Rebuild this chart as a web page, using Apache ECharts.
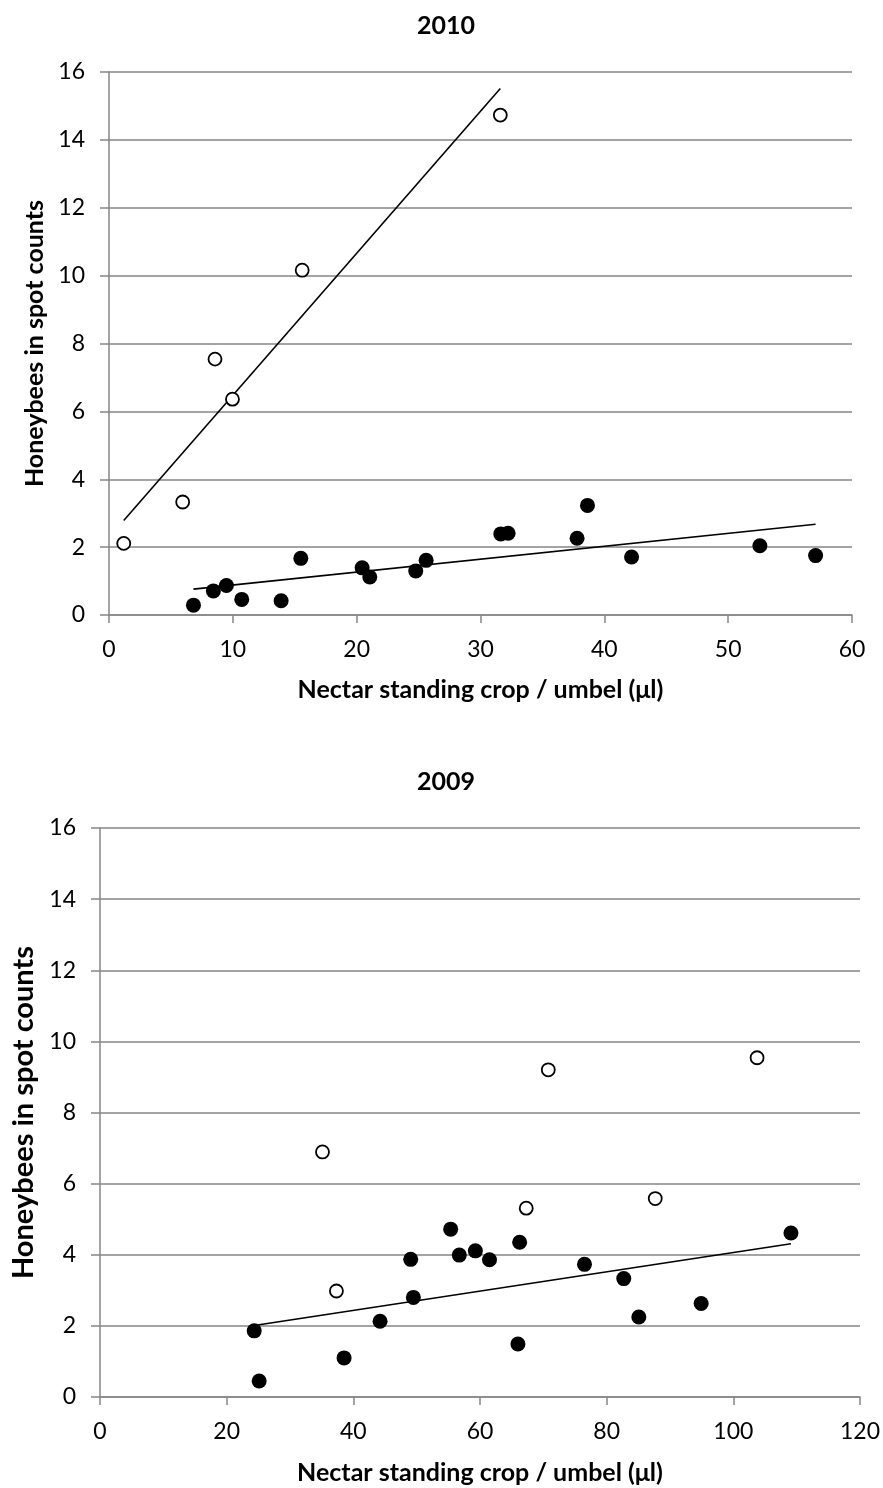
<!DOCTYPE html>
<html>
<head>
<meta charset="utf-8">
<script src="https://cdn.jsdelivr.net/npm/echarts@6/dist/echarts.min.js"></script>
<style>
html,body{margin:0;padding:0;background:#fff;}
#chart{width:883px;height:1488px;}
</style>
</head>
<body>
<div id="chart"></div>
<script>
// ---- Data ----
const title2010 = "2010";
const title2009 = "2009";
const xAxisTitle = "Nectar standing crop / umbel (μl)";
const yAxisTitle = "Honeybees in spot counts";

const yTicks = [0, 2, 4, 6, 8, 10, 12, 14, 16];
const xTicks2010 = [0, 10, 20, 30, 40, 50, 60];
const xTicks2009 = [0, 20, 40, 60, 80, 100, 120];

const open2010X = [1.19, 5.95, 8.56, 9.97, 15.6, 31.6];
const open2010Y = [2.11, 3.33, 7.54, 6.36, 10.16, 14.73];
const filled2010X = [6.82, 8.43, 9.48, 10.72, 13.9, 15.49, 20.44, 21.06, 24.77, 25.61, 31.64, 32.23, 37.8, 38.64, 42.2, 52.56, 57.06];
const filled2010Y = [0.29, 0.71, 0.87, 0.46, 0.42, 1.67, 1.39, 1.12, 1.30, 1.61, 2.39, 2.41, 2.26, 3.23, 1.71, 2.04, 1.75];

const open2009X = [35.13, 37.33, 67.3, 70.78, 87.67, 103.75];
const open2009Y = [6.89, 2.98, 5.31, 9.20, 5.58, 9.54];
const filled2009X = [24.35, 25.13, 38.54, 44.22, 49.06, 49.48, 55.37, 56.73, 59.27, 61.5, 65.99, 66.26, 76.5, 82.7, 85.08, 94.92, 109.1];
const filled2009Y = [1.86, 0.45, 1.10, 2.13, 3.87, 2.80, 4.72, 3.99, 4.11, 3.86, 1.49, 4.35, 3.73, 3.33, 2.25, 2.63, 4.61];

// ---- helpers ----
function pairs(xs, ys){ return xs.map((x,i)=>[x, ys[i]]); }
function trend(xs, ys){ // least-squares linear trendline over the data x-range
  const n = xs.length;
  const mx = xs.reduce((a,b)=>a+b,0)/n, my = ys.reduce((a,b)=>a+b,0)/n;
  let sxy=0, sxx=0;
  for(let i=0;i<n;i++){ sxy += (xs[i]-mx)*(ys[i]-my); sxx += (xs[i]-mx)*(xs[i]-mx); }
  const b = sxy/sxx, a = my - b*mx;
  const x0 = Math.min(...xs), x1 = Math.max(...xs);
  return [[x0, a+b*x0],[x1, a+b*x1]];
}

const FONT = 'Lato, "Open Sans", sans-serif';
const GRAY = '#868686';

function xAxisCfg(gridIndex, ticks, gap){
  return {
    type:'value', gridIndex, min:ticks[0], max:ticks[ticks.length-1], interval:ticks[1]-ticks[0],
    name:xAxisTitle, nameLocation:'middle', nameGap:gap,
    nameTextStyle:{fontFamily:FONT, fontWeight:'bold', fontSize:25, color:'#000'},
    axisLine:{show:true, onZero:false, lineStyle:{color:GRAY, width:1.5}},
    axisTick:{show:true, length:8, lineStyle:{color:GRAY, width:1.5}},
    axisLabel:{fontFamily:FONT, fontSize:23, color:'#000', margin:23},
    splitLine:{show:false}
  };
}
function yAxisCfg(gridIndex, nameSize, nameGap){
  return {
    type:'value', gridIndex, min:yTicks[0], max:yTicks[yTicks.length-1], interval:yTicks[1]-yTicks[0],
    name:yAxisTitle, nameLocation:'middle', nameGap:nameGap, nameRotate:90,
    nameTextStyle:{fontFamily:FONT, fontWeight:'bold', fontSize:nameSize, color:'#000'},
    axisLine:{show:true, lineStyle:{color:GRAY, width:1.5}},
    axisTick:{show:true, length:9, lineStyle:{color:GRAY, width:1.5}},
    axisLabel:{fontFamily:FONT, fontSize:23, color:'#000', margin:24},
    splitLine:{show:true, lineStyle:{color:GRAY, width:1.5}}
  };
}
function openSeries(idx, data){
  return {type:'scatter', xAxisIndex:idx, yAxisIndex:idx, data, symbol:'circle', symbolSize:13, z:5,
    itemStyle:{color:'#fff', borderColor:'#000', borderWidth:1.8, opacity:1}};
}
function filledSeries(idx, data){
  return {type:'scatter', xAxisIndex:idx, yAxisIndex:idx, data, symbol:'circle', symbolSize:15, z:5,
    itemStyle:{color:'#000', borderWidth:0, opacity:1}};
}
function lineSeries(idx, data){
  return {type:'line', xAxisIndex:idx, yAxisIndex:idx, data, showSymbol:false, symbol:'none', z:4,
    lineStyle:{color:'#000', width:1.6}, silent:true, animation:false};
}

const chart = echarts.init(document.getElementById('chart'), null, {renderer:'canvas'});
chart.setOption({
  animation:false,
  backgroundColor:'#fff',
  title:[
    {text:title2010, left:441, top:8, textAlign:'center', textStyle:{fontFamily:FONT, fontWeight:'bold', fontSize:25, color:'#000'}},
    {text:title2009, left:441, top:764, textAlign:'center', textStyle:{fontFamily:FONT, fontWeight:'bold', fontSize:25, color:'#000'}}
  ],
  grid:[
    {left:109, top:72, width:743, height:543, containLabel:false},
    {left:100, top:828, width:761, height:569, containLabel:false}
  ],
  xAxis:[ xAxisCfg(0, xTicks2010, 62), xAxisCfg(1, xTicks2009, 63) ],
  yAxis:[ yAxisCfg(0, 25, 61), yAxisCfg(1, 29, 50) ],
  series:[
    lineSeries(0, trend(open2010X, open2010Y)),
    lineSeries(0, trend(filled2010X, filled2010Y)),
    openSeries(0, pairs(open2010X, open2010Y)),
    filledSeries(0, pairs(filled2010X, filled2010Y)),
    lineSeries(1, trend(filled2009X, filled2009Y)),
    openSeries(1, pairs(open2009X, open2009Y)),
    filledSeries(1, pairs(filled2009X, filled2009Y))
  ]
});
</script>
</body>
</html>
